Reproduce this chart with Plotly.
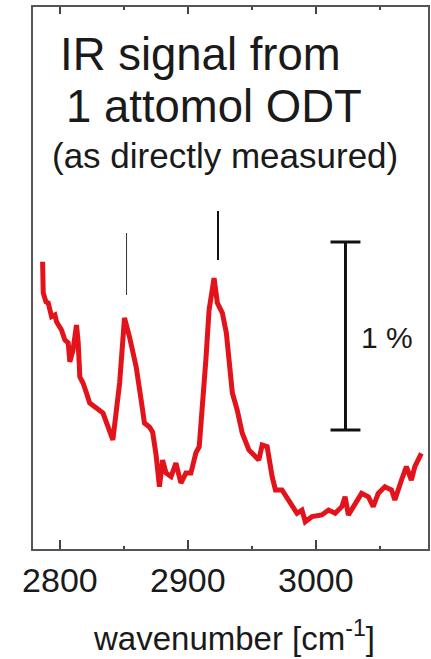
import plotly.graph_objects as go

# wavenumber [cm^-1] and signal [%]
wavenumber = [2786.5, 2787.0, 2789.1, 2790.9, 2793.5, 2796.1, 2797.4, 2799.0, 2801.3, 2803.9,
              2806.5, 2807.8, 2810.3, 2813.0, 2814.3, 2815.6, 2818.1, 2820.8, 2823.3, 2828.5,
              2833.7, 2837.6, 2841.4, 2846.7, 2850.5, 2854.4, 2859.6, 2863.5, 2866.1, 2870.0,
              2872.5, 2875.2, 2877.8, 2880.3, 2883.0, 2886.9, 2890.7, 2894.6, 2898.5, 2902.4,
              2906.3, 2908.9, 2911.4, 2914.1, 2916.6, 2920.5, 2923.1, 2927.0, 2930.1, 2932.2,
              2934.8, 2938.6, 2942.5, 2947.7, 2953.0, 2955.5, 2958.1, 2962.0, 2965.9, 2968.5,
              2973.6, 2978.8, 2981.4, 2985.3, 2989.2, 2991.8, 2997.0, 3004.7, 3010.0, 3015.2,
              3020.3, 3022.9, 3025.5, 3030.7, 3035.8, 3041.1, 3044.9, 3048.8, 3054.0, 3059.2,
              3061.8, 3067.0, 3070.8, 3074.7, 3077.4, 3082.5]
signal = [1.528, 1.362, 1.315, 1.309, 1.236, 1.245, 1.209, 1.190, 1.165, 1.112,
          1.096, 0.996, 1.059, 1.191, 1.100, 0.916, 0.883, 0.830, 0.777, 0.750,
          0.723, 0.651, 0.580, 0.883, 1.229, 1.129, 0.970, 0.793, 0.670, 0.649,
          0.622, 0.500, 0.331, 0.473, 0.404, 0.385, 0.457, 0.351, 0.404, 0.404,
          0.511, 0.544, 0.739, 1.005, 1.271, 1.441, 1.309, 1.255, 1.149, 1.023,
          0.830, 0.739, 0.617, 0.527, 0.491, 0.473, 0.553, 0.544, 0.385, 0.314,
          0.314, 0.261, 0.225, 0.190, 0.207, 0.145, 0.172, 0.181, 0.207, 0.190,
          0.225, 0.278, 0.181, 0.243, 0.296, 0.278, 0.225, 0.296, 0.331, 0.314,
          0.261, 0.367, 0.438, 0.367, 0.438, 0.509]

tick_vals = [2800, 2900, 3000]
tick_text = ["2800", "2900", "3000"]
minor_vals = [2850, 2950, 3050]

# peak markers: (wavenumber, y_bottom, y_top, width)
peak_marks = [(2852.1, 1.351, 1.681, 1), (2923.6, 1.537, 1.798, 2)]
# scale bar (1 %)
scale_wn = 3023.2
scale_lo = 0.633
scale_hi = 1.633
scale_cap = 11.7

x_range = [2779, 3087.7]
y_range = [0, 2.883]

W, H = 431, 659
L, R, T, B = 33, 1, 7, 110
pw, ph = W - L - R, H - T - B


def px(xp):
    return (xp - L) / pw


def py(yp):
    return (H - B - yp) / ph


fig = go.Figure()
fig.add_trace(go.Scatter(x=wavenumber, y=signal, mode="lines",
                         line=dict(color="#e3131b", width=5), showlegend=False))
fig.add_trace(go.Scatter(x=[x_range[0]], y=[y_range[0]], xaxis="x2", mode="markers",
                         marker=dict(opacity=0), showlegend=False, hoverinfo="skip"))

shapes = []
for wn, lo, hi, w in peak_marks:
    shapes.append(dict(type="line", xref="x", yref="y", x0=wn, x1=wn, y0=lo, y1=hi,
                       line=dict(color="#333333" if w == 1 else "#111111", width=w)))
shapes.append(dict(type="line", xref="x", yref="y", x0=scale_wn, x1=scale_wn,
                   y0=scale_lo, y1=scale_hi, line=dict(color="#111111", width=3)))
for yv in (scale_lo, scale_hi):
    shapes.append(dict(type="line", xref="x", yref="y", x0=scale_wn - scale_cap,
                       x1=scale_wn + scale_cap, y0=yv, y1=yv,
                       line=dict(color="#111111", width=3)))

font = "Liberation Sans, Arial, sans-serif"
annotations = [
    dict(text="IR signal from", x=px(58), y=py(54.4), xref="paper", yref="paper",
         xanchor="left", yanchor="middle", showarrow=False,
         font=dict(size=45.5, color="#1a1a1a", family=font)),
    dict(text="1 attomol ODT", x=px(64), y=py(106.4), xref="paper", yref="paper",
         xanchor="left", yanchor="middle", showarrow=False,
         font=dict(size=45.5, color="#1a1a1a", family=font)),
    dict(text="(as directly measured)", x=px(50), y=py(155.2), xref="paper", yref="paper",
         xanchor="left", yanchor="middle", showarrow=False,
         font=dict(size=35, color="#1a1a1a", family=font)),
    dict(text="1 %", x=px(389), y=py(337.6), xref="paper", yref="paper",
         xanchor="center", yanchor="middle", showarrow=False,
         font=dict(size=30, color="#1a1a1a", family=font)),
    dict(text="wavenumber [cm<sup>-1</sup>]", x=px(235), y=py(636), xref="paper", yref="paper",
         xanchor="center", yanchor="middle", showarrow=False,
         font=dict(size=33, color="#1a1a1a", family=font)),
]

axis_common = dict(range=x_range, tickmode="array", tickvals=tick_vals,
                   ticks="inside", tickwidth=2, tickcolor="#444444",
                   showline=True, linecolor="#555555", linewidth=2,
                   showgrid=False, zeroline=False)

fig.update_layout(
    width=W, height=H,
    margin=dict(l=L, r=R, t=T, b=B, pad=0),
    paper_bgcolor="white", plot_bgcolor="white",
    shapes=shapes, annotations=annotations,
    font=dict(family=font, color="#1a1a1a"),
    xaxis=dict(**axis_common, ticktext=tick_text, ticklen=9,
               tickfont=dict(size=34, color="#1a1a1a", family=font),
               minor=dict(tickmode="array", tickvals=minor_vals, ticks="inside",
                          ticklen=3, tickwidth=2, tickcolor="#444444", showgrid=False)),
    xaxis2=dict(**axis_common, overlaying="x", side="top", anchor="y", ticklen=7,
                showticklabels=False,
                minor=dict(tickmode="array", tickvals=minor_vals, ticks="inside",
                           ticklen=3, tickwidth=2, tickcolor="#444444", showgrid=False)),
    yaxis=dict(range=y_range, showticklabels=False, ticks="",
               showline=True, linecolor="#555555", linewidth=2, mirror=True,
               showgrid=False, zeroline=False),
)

fig.write_html("out.html")
